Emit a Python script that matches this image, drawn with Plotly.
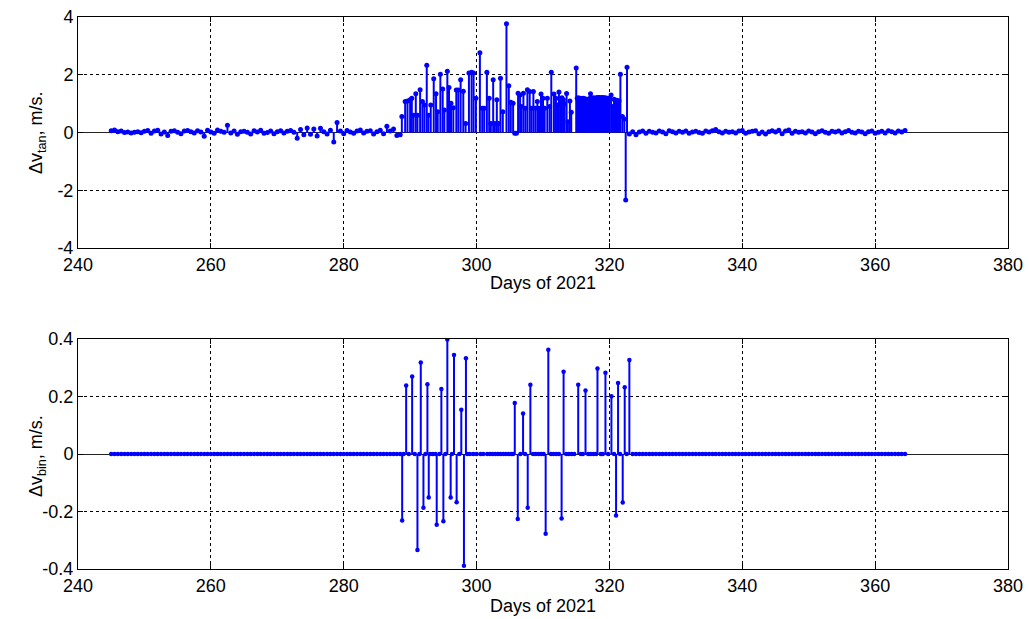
import plotly.graph_objects as go

# ---------------- tangential component (m/s) ----------------
# quiet arc before the manoeuvre campaign
tan_pre_days = [
    245.0, 245.5, 246.0, 246.5, 247.0, 247.5, 248.0, 248.5, 249.0, 249.5,
    250.0, 250.5, 251.0, 251.5, 252.0, 252.5, 253.0, 253.5, 254.0, 254.5,
    255.0, 255.5, 256.0, 256.5, 257.0, 257.5, 258.0, 258.5, 259.0, 259.5,
    260.0, 260.5, 261.0, 261.5, 262.0, 262.5, 263.0, 263.5, 264.0, 264.5,
    265.0, 265.5, 266.0, 266.5, 267.0, 267.5, 268.0, 268.5, 269.0, 269.5,
    270.0, 270.5, 271.0, 271.5, 272.0, 272.5, 273.0, 273.5, 274.0, 274.5,
    275.0, 275.5, 276.0, 276.5, 277.0, 277.5, 278.0, 278.5, 279.0, 279.5,
    280.0, 280.5, 281.0, 281.5, 282.0, 282.5, 283.0, 283.5, 284.0, 284.5,
    285.0, 285.5, 286.0, 286.5, 287.0, 287.5, 288.0, 288.5,
]
tan_pre_vals = [
    0.06, 0.09, 0.03, 0.05, 0.00, 0.02, -0.02, 0.01, 0.03, -0.01,
    0.04, 0.07, -0.03, 0.05, 0.08, -0.05, 0.02, -0.10, 0.04, 0.06,
    0.01, -0.04, 0.05, 0.07, 0.03, -0.02, 0.06, 0.02, -0.13, 0.08,
    0.02, -0.03, 0.09, 0.04, 0.01, 0.25, -0.02, 0.05, -0.06, 0.03,
    0.04, 0.01, -0.05, 0.06, 0.02, 0.08, -0.03, 0.00, 0.05, -0.04,
    0.03, 0.06, -0.02, 0.04, 0.07, 0.01, -0.20, 0.10, -0.08, 0.16,
    -0.06, 0.12, -0.12, 0.15, 0.03, -0.05, 0.08, -0.33, 0.35, 0.05,
    -0.04, 0.07, 0.02, -0.03, 0.05, 0.09, -0.02, 0.04, 0.06, -0.05,
    0.03, 0.08, -0.04, 0.22, 0.05, 0.12, -0.10, -0.08,
]

# manoeuvre campaign
tan_act_days = [
    288.75, 289.25, 289.6, 290.0, 290.25, 290.5, 290.85, 291.1, 291.5, 291.85,
    292.15, 292.5, 292.75, 293.1, 293.55, 293.9, 294.15, 294.55, 294.9, 295.15,
    295.6, 295.85, 296.15, 296.5, 296.95, 297.25, 297.6, 298.0, 298.35, 298.85,
    299.25, 299.55, 299.9, 300.5, 300.85, 301.15, 301.55, 301.9, 302.15, 302.5,
    302.75, 303.05, 303.3, 303.6, 303.95, 304.5, 304.85, 305.15, 305.5, 305.75,
    306.0, 306.25, 306.55, 306.75, 307.05, 307.35, 307.65, 308.0, 308.25, 308.55,
    308.85, 309.15, 309.4, 309.7, 310.0, 310.25, 310.65, 311.0, 311.25, 311.65,
    311.95, 312.2, 312.4, 312.65, 312.85, 313.05, 313.25, 313.55, 313.75, 314.05,
    314.25, 315.0, 315.15, 315.3, 315.45, 315.6, 315.75, 315.9, 316.05, 316.2,
    316.35, 316.5, 316.7, 316.85, 317.0, 317.15, 317.3, 317.45, 317.6, 317.75,
    317.9, 318.05, 318.2, 318.35, 318.5, 318.65, 318.8, 318.95, 319.1, 319.25,
    319.4, 319.55, 319.7, 319.85, 320.0, 320.25, 320.5, 320.7, 320.9, 321.1,
    321.25, 321.45, 321.65, 321.95, 322.25, 322.45, 322.65,
]
tan_act_vals = [
    0.55, 1.07, 1.09, 1.13, 1.19, 0.60, 1.34, 0.60, 1.48, 1.07,
    0.95, 2.33, 0.60, 0.95, 1.86, 1.34, 0.72, 2.02, 1.51, 0.78,
    2.12, 1.56, 1.01, 0.86, 1.47, 1.47, 1.83, 1.43, 0.31, 2.06,
    2.09, 2.06, 1.19, 2.76, 0.84, 0.84, 2.09, 1.19, 0.31, 1.83,
    0.31, 1.13, 0.31, 1.88, 0.72, 3.77, 1.62, 1.05, 1.01, -0.03,
    -0.03, 1.36, 1.30, 0.90, 1.36, 0.84, 1.48, 1.42, 0.84, 1.42,
    0.84, 1.07, 0.84, 1.33, 1.19, 0.84, 1.19, 0.90, 2.09, 1.33,
    1.19, 0.95, 1.40, 1.05, 1.20, 1.13, 1.00, 1.35, 0.37, 1.09,
    0.70, 2.23, 1.19, 1.20, 1.18, 1.19, 1.17, 1.18, 1.19, 1.17,
    1.16, 1.15, 0.98, 1.15, 1.18, 1.34, 1.18, 1.19, 1.20, 1.19,
    1.18, 1.20, 1.21, 1.20, 1.21, 1.19, 1.20, 1.21, 1.20, 1.19,
    1.20, 1.18, 1.19, 1.17, 1.19, 1.30, 0.90, 1.15, 1.09, 1.12,
    1.07, 1.10, 2.02, 0.55, 0.47, -2.34, 2.26,
]

# quiet arc after the campaign
tan_post_days = [
    323.0, 323.5, 324.0, 324.5, 325.0, 325.5, 326.0, 326.5, 327.0, 327.5,
    328.0, 328.5, 329.0, 329.5, 330.0, 330.5, 331.0, 331.5, 332.0, 332.5,
    333.0, 333.5, 334.0, 334.5, 335.0, 335.5, 336.0, 336.5, 337.0, 337.5,
    338.0, 338.5, 339.0, 339.5, 340.0, 340.5, 341.0, 341.5, 342.0, 342.5,
    343.0, 343.5, 344.0, 344.5, 345.0, 345.5, 346.0, 346.5, 347.0, 347.5,
    348.0, 348.5, 349.0, 349.5, 350.0, 350.5, 351.0, 351.5, 352.0, 352.5,
    353.0, 353.5, 354.0, 354.5, 355.0, 355.5, 356.0, 356.5, 357.0, 357.5,
    358.0, 358.5, 359.0, 359.5, 360.0, 360.5, 361.0, 361.5, 362.0, 362.5,
    363.0, 363.5, 364.0, 364.5,
]
tan_post_vals = [
    -0.05, 0.03, -0.08, 0.02, 0.05, -0.03, 0.04, 0.01, -0.02, 0.05,
    0.02, -0.04, 0.06, 0.03, -0.02, 0.04, 0.01, 0.05, -0.03, 0.02,
    0.04, 0.00, -0.03, 0.05, 0.02, 0.06, 0.10, 0.03, -0.02, 0.04,
    0.01, 0.03, -0.02, 0.05, 0.07, -0.03, 0.02, 0.04, 0.06, -0.04,
    0.02, -0.05, 0.03, 0.06, 0.02, 0.08, -0.04, 0.05, 0.09, -0.03,
    0.04, 0.01, 0.03, -0.02, 0.05, 0.02, -0.04, 0.03, 0.06, 0.01,
    -0.03, 0.04, 0.02, 0.05, -0.02, 0.03, 0.07, 0.01, -0.02, 0.04,
    0.02, -0.04, 0.03, 0.05, -0.03, 0.01, 0.04, -0.02, 0.06, 0.03,
    -0.02, 0.05, 0.02, 0.07,
]

# ---------------- binormal component (m/s) ----------------
bin_spike_days = [
    288.8, 289.4, 290.3, 291.1, 291.6, 292.0, 292.6, 292.8, 294.0, 294.7,
    295.0, 295.6, 296.1, 296.6, 297.0, 297.7, 298.1, 298.4,
    305.75, 306.2, 307.0, 307.7, 308.1, 310.4, 310.8, 312.8, 313.1,
    315.3, 316.4, 318.2, 319.4, 320.3, 321.0, 321.3, 322.0, 322.3, 323.0,
]
bin_spike_vals = [
    -0.231, 0.238, 0.270, -0.334, 0.318, -0.187, 0.243, -0.151, -0.246, 0.226,
    -0.234, 0.398, -0.151, 0.344, -0.168, 0.154, -0.389, 0.333,
    0.177, -0.226, 0.141, -0.187, 0.241, -0.277, 0.363, -0.224, 0.286,
    0.241, 0.221, 0.297, 0.283, 0.201, -0.214, 0.247, -0.169, 0.232, 0.327,
]
# epochs inside the campaign where no binormal burn was made
bin_quiet_act_days = [
    289.0, 289.8, 290.7, 291.4, 292.3, 293.0, 293.4, 293.8, 294.4, 295.3,
    296.3, 297.4, 298.6, 299.0, 299.5, 300.0, 300.6, 301.0, 301.6, 302.0,
    302.4, 302.8, 303.2, 303.6, 304.0, 304.4, 304.8, 305.2, 305.5, 306.6,
    307.3, 308.5, 308.9, 309.3, 309.7, 310.1, 311.2, 311.6, 312.0, 312.4,
    313.5, 313.9, 314.3, 314.7, 315.7, 316.0, 316.8, 317.2, 317.6, 318.0,
    318.7, 319.0, 319.8, 320.7, 321.6, 322.6,
]

BLUE = "#0000ff"
FONT = "Liberation Sans, Arial, sans-serif"
FS = 18


def stem(days, vals, xa, ya, msize):
    """Stem plot: vertical segments from zero plus a marker at each value."""
    up = [max(-v, 0.0) for v in vals]
    down = [max(v, 0.0) for v in vals]
    return go.Scatter(
        x=days, y=vals, mode="markers", xaxis=xa, yaxis=ya, showlegend=False,
        marker=dict(color=BLUE, size=msize, symbol="circle", line=dict(width=0)),
        error_y=dict(type="data", symmetric=False, array=up, arrayminus=down,
                     width=0, thickness=2, color=BLUE),
    )


tan_days = tan_pre_days + tan_act_days + tan_post_days
tan_vals = tan_pre_vals + tan_act_vals + tan_post_vals

bin_zero_days = tan_pre_days + bin_quiet_act_days + tan_post_days[1:]
bin_days = bin_zero_days + bin_spike_days
bin_vals = [0.0] * len(bin_zero_days) + bin_spike_vals

fig = go.Figure()
fig.add_trace(stem(tan_days, tan_vals, "x", "y", 5))
fig.add_trace(stem(bin_days, bin_vals, "x2", "y2", 4.5))

W, H = 1029, 619
xdom = [78 / W, 1008 / W]
top_dom = [1 - 248 / H, 1 - 17 / H]
bot_dom = [1 - 569 / H, 1 - 339 / H]

x_ticks = [240, 260, 280, 300, 320, 340, 360, 380]
common_x = dict(
    range=[240, 380], tickvals=x_ticks, ticktext=[str(t) for t in x_ticks],
    showgrid=True, gridcolor="black", griddash="dot", gridwidth=1,
    showline=True, linecolor="black", linewidth=1, mirror="ticks",
    ticks="inside", ticklen=5, tickcolor="black", zeroline=False,
    tickfont=dict(family=FONT, size=FS, color="black"), fixedrange=True,
    automargin=False,
)
common_y = dict(
    showgrid=True, gridcolor="black", griddash="dot", gridwidth=1,
    showline=True, linecolor="black", linewidth=1, mirror="ticks",
    ticks="inside", ticklen=5, tickcolor="black",
    zeroline=True, zerolinecolor="#222222", zerolinewidth=1.2,
    tickfont=dict(family=FONT, size=FS, color="black"), fixedrange=True,
    automargin=False,
)

fig.update_layout(
    width=W, height=H, margin=dict(l=0, r=0, t=0, b=0, pad=0),
    paper_bgcolor="white", plot_bgcolor="white",
    xaxis=dict(domain=xdom, anchor="y", **common_x),
    yaxis=dict(domain=top_dom, anchor="x", range=[-4, 4],
               tickvals=[-4, -2, 0, 2, 4], ticktext=["-4", "-2", "0", "2", "4"],
               **common_y),
    xaxis2=dict(domain=xdom, anchor="y2", **common_x),
    yaxis2=dict(domain=bot_dom, anchor="x2", range=[-0.4, 0.4],
                tickvals=[-0.4, -0.2, 0, 0.2, 0.4],
                ticktext=["-0.4", "-0.2", "0", "0.2", "0.4"],
                **common_y),
    showlegend=False,
)

label_font = dict(family=FONT, size=FS, color="black")
annotations = [
    dict(text="Days of 2021", x=543 / W, y=1 - 283 / H),
    dict(text="Days of 2021", x=543 / W, y=1 - 606 / H),
    dict(text="\u0394v<sub>tan</sub>, m/s.", x=37 / W, y=1 - 133 / H, textangle=-90),
    dict(text="\u0394v<sub>bin</sub>, m/s.", x=37 / W, y=1 - 456 / H, textangle=-90),
]
for a in annotations:
    fig.add_annotation(xref="paper", yref="paper", showarrow=False,
                       xanchor="center", yanchor="middle", font=label_font, **a)

fig.write_html("out.html")
